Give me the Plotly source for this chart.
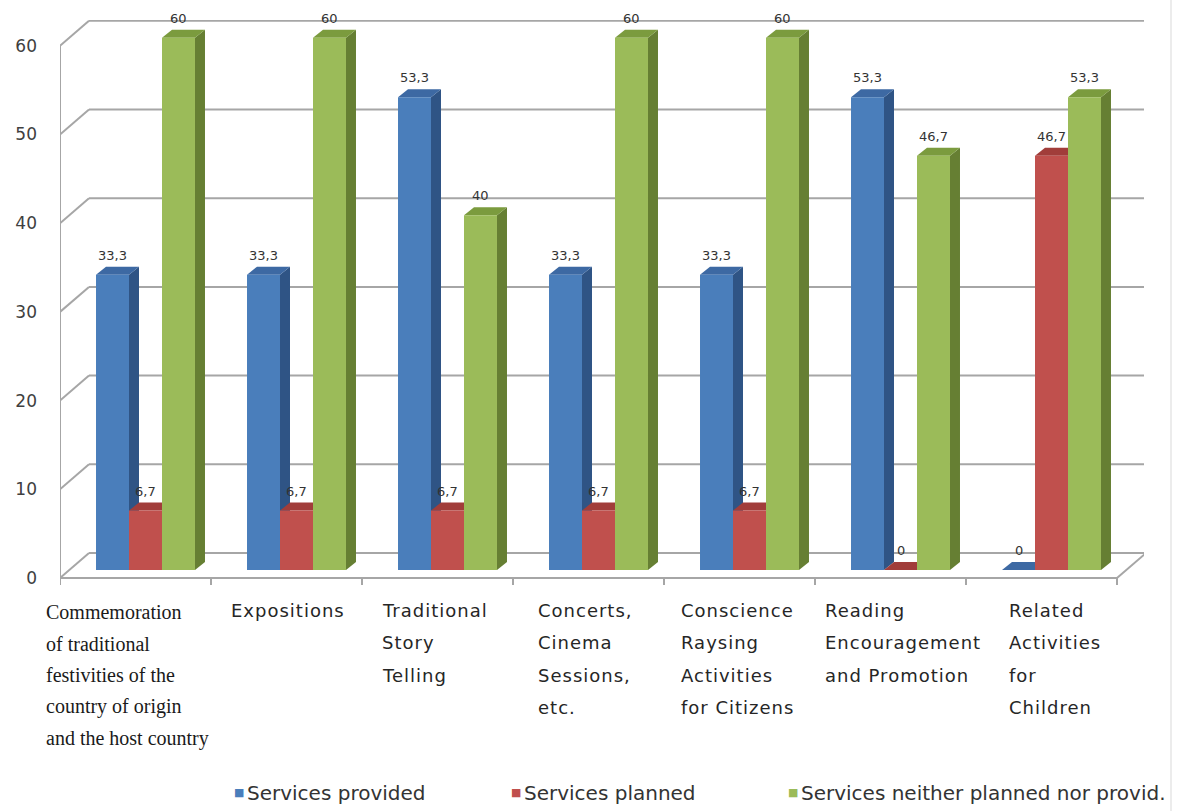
import plotly.graph_objects as go

# ---------------- data ----------------
categories = [
    "Commemoration of traditional festivities of the country of origin and the host country",
    "Expositions",
    "Traditional Story Telling",
    "Concerts, Cinema Sessions, etc.",
    "Conscience Raysing Activities for Citizens",
    "Reading Encouragement and Promotion",
    "Related Activities for Children",
]
category_lines = [
    ["Commemoration", "of traditional", "festivities of the", "country of origin", "and the host country"],
    ["Expositions"],
    ["Traditional", "Story", "Telling"],
    ["Concerts,", "Cinema", "Sessions,", "etc."],
    ["Conscience", "Raysing", "Activities", "for Citizens"],
    ["Reading", "Encouragement", "and Promotion"],
    ["Related", "Activities", "for", "Children"],
]
series_names = ["Services provided", "Services planned", "Services neither planned nor provid."]
provided = [33.3, 33.3, 53.3, 33.3, 33.3, 53.3, 0]
planned = [6.7, 6.7, 6.7, 6.7, 6.7, 0, 46.7]
neither = [60, 60, 40, 60, 60, 46.7, 53.3]
y_ticks = [0, 10, 20, 30, 40, 50, 60]

# ---------------- styling / geometry ----------------
front_colors = ["#4A7EBB", "#C0504D", "#9BBB59"]
side_colors = ["#2F5485", "#8E3532", "#667F33"]
top_colors = ["#3D69A3", "#A13D3A", "#7B9B3E"]
GRID = "#A6A6A6"

W, H = 1177, 811
PX_X = 151.0           # pixels per category
PX_Y = 8.87            # pixels per value unit
BAR_X0 = 70            # pixel x of category boundary -0.5 in the bar plane
BAR_Y0 = 570           # pixel y of value 0 in the bar plane
PLOT_L, PLOT_R, PLOT_T, PLOT_B = 60, 1144, 20, 586

x_min = -0.5 - (BAR_X0 - PLOT_L) / PX_X
x_max = -0.5 + (PLOT_R - BAR_X0) / PX_X
y_min = -(PLOT_B - BAR_Y0) / PX_Y
y_max = (BAR_Y0 - PLOT_T) / PX_Y

# plane offsets (pixels) relative to bar plane
FRONT_DX, FRONT_DY = -10, 8
BACK_DX, BACK_DY = 19, -17
BAR_DX, BAR_DY = 10, -8      # bar depth

def ox(px):
    return px / PX_X

def oy(px):
    return -px / PX_Y

bar_w = 0.2185
offsets = [-1.5 * bar_w, -0.5 * bar_w, 0.5 * bar_w]
series = [provided, planned, neither]

def fmt(v):
    return str(int(v)) if float(v).is_integer() else f"{v:.1f}".replace(".", ",")

fig = go.Figure()
x_idx = list(range(len(categories)))
for k, vals in enumerate(series):
    fig.add_trace(go.Bar(
        x=x_idx, y=vals, name=series_names[k],
        width=bar_w, offset=offsets[k],
        marker=dict(color=front_colors[k], line=dict(width=0)),
        showlegend=False,
    ))

shapes = []
line_style = dict(color=GRID, width=2)

# back wall gridlines and left wall diagonals
for v in y_ticks:
    shapes.append(dict(type="line", xref="x", yref="y", layer="below",
                       x0=-0.5 + ox(BACK_DX), x1=6.5 + ox(BACK_DX),
                       y0=v + oy(BACK_DY), y1=v + oy(BACK_DY), line=line_style))
    shapes.append(dict(type="line", xref="x", yref="y", layer="below",
                       x0=-0.5 + ox(FRONT_DX), x1=-0.5 + ox(BACK_DX),
                       y0=v + oy(FRONT_DY), y1=v + oy(BACK_DY), line=line_style))
# front vertical axis
shapes.append(dict(type="line", xref="x", yref="y", layer="below",
                   x0=-0.5 + ox(FRONT_DX), x1=-0.5 + ox(FRONT_DX),
                   y0=0 + oy(FRONT_DY), y1=max(y_ticks) + oy(FRONT_DY), line=line_style))
# floor front edge and right edge
shapes.append(dict(type="line", xref="x", yref="y", layer="below",
                   x0=-0.5 + ox(FRONT_DX), x1=6.5 + ox(FRONT_DX),
                   y0=oy(FRONT_DY), y1=oy(FRONT_DY), line=line_style))
shapes.append(dict(type="line", xref="x", yref="y", layer="below",
                   x0=6.5 + ox(FRONT_DX), x1=6.5 + ox(BACK_DX),
                   y0=oy(FRONT_DY), y1=oy(BACK_DY), line=line_style))
# category tick marks
for i in range(len(categories) + 1):
    xb = i - 0.5 + ox(FRONT_DX)
    shapes.append(dict(type="line", xref="x", yref="y", layer="below",
                       x0=xb, x1=xb, y0=oy(FRONT_DY), y1=oy(FRONT_DY + 7), line=line_style))

# 3D faces of the bars
for k, vals in enumerate(series):
    for i, v in enumerate(vals):
        xl = i + offsets[k]
        xr = xl + bar_w
        dx, dy = ox(BAR_DX), oy(BAR_DY)
        if v > 0:
            shapes.append(dict(type="path", xref="x", yref="y", layer="below",
                               path=f"M {xr},0 L {xr},{v} L {xr+dx},{v+dy} L {xr+dx},{dy} Z",
                               fillcolor=side_colors[k], line=dict(width=0)))
        shapes.append(dict(type="path", xref="x", yref="y", layer="below",
                           path=f"M {xl},{v} L {xr},{v} L {xr+dx},{v+dy} L {xl+dx},{v+dy} Z",
                           fillcolor=top_colors[k], line=dict(width=0)))

# page border on the right
shapes.append(dict(type="line", xref="paper", yref="paper",
                   x0=(1171 - PLOT_L) / (PLOT_R - PLOT_L), x1=(1171 - PLOT_L) / (PLOT_R - PLOT_L),
                   y0=(PLOT_B - H) / (PLOT_B - PLOT_T), y1=PLOT_B / (PLOT_B - PLOT_T),
                   line=dict(color="#D9D9D9", width=1)))

annotations = []
# data labels
for k, vals in enumerate(series):
    for i, v in enumerate(vals):
        annotations.append(dict(
            x=i + offsets[k] + bar_w / 2, y=v, xref="x", yref="y",
            text=fmt(v), showarrow=False, yanchor="bottom", xanchor="center",
            yshift=10, font=dict(family="DejaVu Sans", size=13, color="#333333"),
        ))

# category labels (left-aligned lines)
label_xshift = [-102, -68, -68, -63, -71, -78, -45]
for i, lines in enumerate(category_lines):
    serif = (i == 0)
    spacing = 31.5 if serif else 32.5
    first = 26 if serif else 24
    for j, ln in enumerate(lines):
        if serif:
            txt = ln
            font = dict(family="Liberation Serif", size=20, color="#1A1A1A")
        else:
            txt = f"<span style='letter-spacing:1px'>{ln}</span>"
            font = dict(family="DejaVu Sans", size=18, color="#262626")
        annotations.append(dict(
            x=i, y=0, xref="x", yref="paper", text=txt, showarrow=False,
            xanchor="left", yanchor="middle", xshift=label_xshift[i],
            yshift=-(first + spacing * j), font=font,
        ))

# legend as text items (small square marker + label)
legend_px = [232, 509, 786]
for k, name in enumerate(series_names):
    xp = (legend_px[k] - PLOT_L) / (PLOT_R - PLOT_L)
    annotations.append(dict(
        x=xp, y=0, xref="paper", yref="paper", text="■",
        showarrow=False, xanchor="left", yanchor="middle", yshift=-(792 - PLOT_B),
        font=dict(family="DejaVu Sans", size=11, color=front_colors[k]),
    ))
    annotations.append(dict(
        x=xp, y=0, xref="paper", yref="paper", text=name,
        showarrow=False, xanchor="left", yanchor="middle", yshift=-(793 - PLOT_B), xshift=13,
        font=dict(family="DejaVu Sans", size=20, color="#333333"),
    ))

fig.update_layout(
    width=W, height=H,
    margin=dict(l=PLOT_L, r=W - PLOT_R, t=PLOT_T, b=H - PLOT_B, pad=0),
    paper_bgcolor="white", plot_bgcolor="rgba(0,0,0,0)",
    barmode="overlay", showlegend=False,
    xaxis=dict(range=[x_min, x_max], showgrid=False, zeroline=False, showline=False,
               showticklabels=False, ticks="", fixedrange=True),
    yaxis=dict(range=[y_min, y_max], showgrid=False, zeroline=False, showline=False,
               tickvals=y_ticks, ticktext=[str(t) for t in y_ticks], ticks="",
               ticklabelstandoff=22, ticklabelshift=FRONT_DY,
               tickfont=dict(family="DejaVu Sans", size=17, color="#404040"), fixedrange=True),
    shapes=shapes, annotations=annotations,
    font=dict(family="DejaVu Sans"),
)

fig.write_html("out.html")
